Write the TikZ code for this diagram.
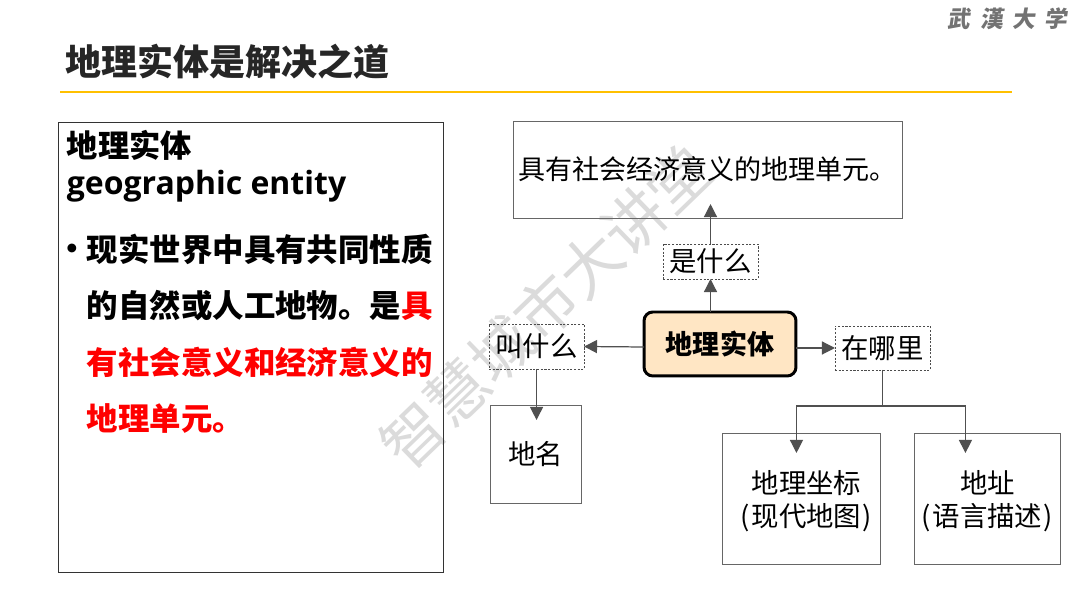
\documentclass[tikz,border=0pt]{standalone}
\usepackage{fontspec}
\usepackage{xcolor}
\setmainfont{Noto Sans CJK SC}
\newfontfamily\latinbold{Open Sans}
\definecolor{titlebar}{HTML}{FFC000}
\definecolor{coreface}{HTML}{FFE6C4}
\definecolor{wire}{HTML}{505050}
\usetikzlibrary{arrows.meta,positioning}

\begin{document}
\begin{tikzpicture}[x=0.02cm, y=-0.02cm,
  panel/.style={draw=black!60, line width=0.45pt, inner sep=0pt, outer sep=0pt, align=center,
    font=\fontsize{15.6}{18.8}\selectfont},
  core/.style={draw=black, line width=1.7pt, rounded corners=5pt, fill=coreface, inner sep=0pt, outer sep=0pt,
    minimum width=3.04cm, minimum height=1.28cm, font=\fontsize{15.4}{18.5}\selectfont\bfseries},
  ask/.style={draw=black!70, dash pattern=on 1.2pt off 0.9pt, line width=0.4pt, inner sep=0pt, outer sep=0pt,
    minimum width=1.9cm, font=\fontsize{15.6}{18.8}\selectfont},
  flow/.style={-{Stealth[length=2.6mm, width=2.6mm, inset=0pt]}, wire, line width=0.7pt},
  link/.style={wire, line width=0.7pt},
]
  \useasboundingbox (0,0) rectangle (1080,607);

  % watermark and logo
  \node[rotate=44, text=black!14, font=\fontsize{35}{35}\selectfont] (mark) at (546,307) {智慧城市大讲堂};
  \node[text=black!55, font=\fontsize{13}{14}\selectfont\bfseries, xslant=0.15] (logo) at (1009,19) {武\hspace{0.42em}漢\hspace{0.42em}大\hspace{0.42em}学};

  % title
  \node[anchor=west, inner sep=0pt, text=black!85, font=\fontsize{20.5}{24}\selectfont\bfseries] (title) at (65,62) {地理实体是解决之道};
  \coordinate (ruleL) at (60,92);
  \coordinate (ruleR) at (1012,92);
  \draw[titlebar, line width=1.6pt] (ruleL) -- (ruleR);

  % left panel
  \node[panel, draw=black!80, minimum width=7.7cm, minimum height=9cm] (textbox) at (250.5,347) {};
  \node[anchor=north west, inner sep=0pt, align=left, font=\fontsize{17.8}{21}\selectfont\bfseries] (term) at (66.5,130)
    {地理实体\\{\fontsize{18.2}{21}\selectfont\latinbold geographic entity}};
  \node[anchor=center, inner sep=0pt, font=\fontsize{18}{18}\selectfont\bfseries] (dot) at (72,252) {•};
  \node[anchor=north west, inner sep=0pt, align=left, font=\fontsize{17.9}{32}\selectfont\bfseries] (defn) at (86.5,234)
    {现实世界中具有共同性质\\的自然或人工地物。是\textcolor{red}{具}\\\textcolor{red}{有社会意义和经济意义的}\\\textcolor{red}{地理单元。}};

  % diagram
  \node[core] (entity) at (720,344) {地理实体};
  \node[ask, minimum height=0.7cm, above=0.66cm of entity, xshift=-0.19cm] (askwhat) {是什么};
  \node[panel, minimum width=7.78cm, minimum height=1.94cm, above=0.52cm of askwhat, xshift=-0.06cm,
    font=\fontsize{15.4}{18.5}\selectfont] (meaning) {具有社会经济意义的地理单元。};
  \node[ask, minimum height=0.9cm, left=1.2cm of entity, yshift=-0.05cm] (askname) {叫什么};
  \node[ask, minimum height=0.88cm, right=0.78cm of entity, yshift=-0.08cm] (askwhere) {在哪里};
  \node[panel, minimum width=1.82cm, minimum height=1.96cm, below=0.72cm of askname, xshift=-0.02cm] (placename) {地名};
  \node[panel, minimum width=3.16cm, minimum height=2.62cm, below=1.26cm of askwhere, xshift=-1.62cm] (coords)
    {\rule{0pt}{0.56cm}\hspace{0.2cm}地理坐标\\\hspace{0.2cm}(\hspace{0.06em}现代地图\hspace{0.06em})};
  \node[panel, minimum width=2.92cm, minimum height=2.62cm, right=0.68cm of coords] (address)
    {\rule{0pt}{0.56cm}地址\\(\hspace{0.05em}语言描述\hspace{0.05em})};

  \draw[flow] (askwhat.north) -- ([xshift=0.06cm, yshift=0.28cm]meaning.south);
  \draw[flow] ([xshift=-0.19cm]entity.north) -- (askwhat.south);
  \draw[flow] ([yshift=-0.06cm]entity.west) -- (askname.east);
  \draw[flow] ([yshift=-0.08cm]entity.east) -- (askwhere.west);
  \draw[flow] (askname.south) -- ([xshift=0.02cm, yshift=-0.3cm]placename.north);

  \coordinate[below=0.72cm of askwhere.south] (fork);
  \coordinate (coordsTip) at ([xshift=-0.1cm, yshift=-0.4cm]coords.north);
  \coordinate (addressTip) at ([xshift=-0.44cm, yshift=-0.4cm]address.north);
  \draw[link] (askwhere.south) -- (fork);
  \draw[flow] (fork) -| (coordsTip);
  \draw[flow] (fork) -| (addressTip);
\end{tikzpicture}
\end{document}
